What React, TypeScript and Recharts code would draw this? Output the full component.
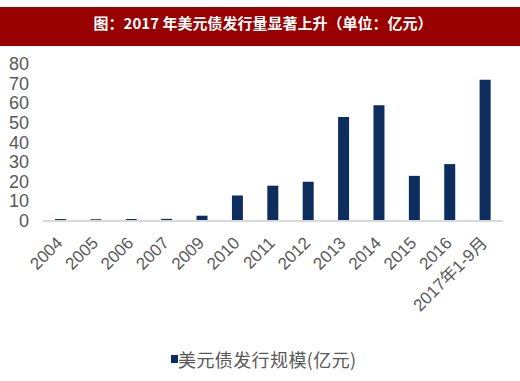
import { BarChart, Bar, XAxis, YAxis } from 'recharts';

const years = ['2004', '2005', '2006', '2007', '2009', '2010', '2011', '2012', '2013', '2014', '2015', '2016', '2017年1-9月'];
const issuance = [1, 0.9, 1, 1.1, 2.7, 13, 18, 20, 53, 59, 23, 29, 72];
const yTicks = [0, 10, 20, 30, 40, 50, 60, 70, 80];

const TITLE = '图：2017 年美元债发行量显著上升（单位：亿元）';
const SERIES_NAME = '美元债发行规模(亿元)';

const NAVY = '#0c2d5e';
const GREY_TEXT = '#595959';
const FONT = '"Liberation Sans", Arial, "Noto Sans CJK SC", sans-serif';

const data = years.map((year, i) => ({ year, value: issuance[i] }));

function YTick({ y, payload }: any) {
  return (
    <text x={29} y={y + 6} textAnchor="end" fontSize={18} fill={GREY_TEXT} fontFamily={FONT}>
      {payload.value}
    </text>
  );
}

function XTick({ x, payload }: any) {
  return (
    <text
      transform={`translate(${x + 3}, 244) rotate(-45)`}
      textAnchor="end"
      fontSize={17}
      fill={GREY_TEXT}
      fontFamily={FONT}
    >
      {payload.value}
    </text>
  );
}

export default function App() {
  return (
    <div style={{ position: 'absolute', left: 0, top: 0, width: 520, height: 381, background: '#fff', overflow: 'hidden' }}>
      {/* title band */}
      <div
        style={{
          position: 'absolute', left: 0, top: 7, width: 520, height: 39,
          background: '#990000', color: '#fff', fontWeight: 'bold', fontSize: 15,
          fontFamily: '"Noto Sans CJK SC", sans-serif', textAlign: 'center', lineHeight: '31px',
          paddingLeft: 6, boxSizing: 'border-box',
        }}
      >
        {TITLE}
      </div>

      <div style={{ position: 'absolute', left: 0, top: 0 }}>
        <BarChart width={520} height={381} data={data} margin={{ top: 64, right: 17, left: 0, bottom: 0 }}>
          <YAxis
            width={43}
            domain={[0, 80]}
            ticks={yTicks}
            axisLine={false}
            tickLine={false}
            tick={<YTick />}
            interval={0}
          />
          <XAxis
            dataKey="year"
            height={160}
            interval={0}
            tickLine={false}
            axisLine={{ stroke: '#d9d9d9', strokeWidth: 2 }}
            tick={<XTick />}
          />
          <Bar dataKey="value" fill={NAVY} barSize={11} isAnimationActive={false} />
        </BarChart>
      </div>

      {/* legend */}
      <div style={{ position: 'absolute', left: 171, top: 349, display: 'flex', alignItems: 'center', fontFamily: '"Noto Sans CJK SC", sans-serif', fontSize: 18, color: GREY_TEXT }}>
        <span style={{ display: 'inline-block', width: 7, height: 8, background: NAVY, marginRight: 0 }} />
        <span style={{ lineHeight: '20px', letterSpacing: 0.4 }}>{SERIES_NAME}</span>
      </div>
    </div>
  );
}
